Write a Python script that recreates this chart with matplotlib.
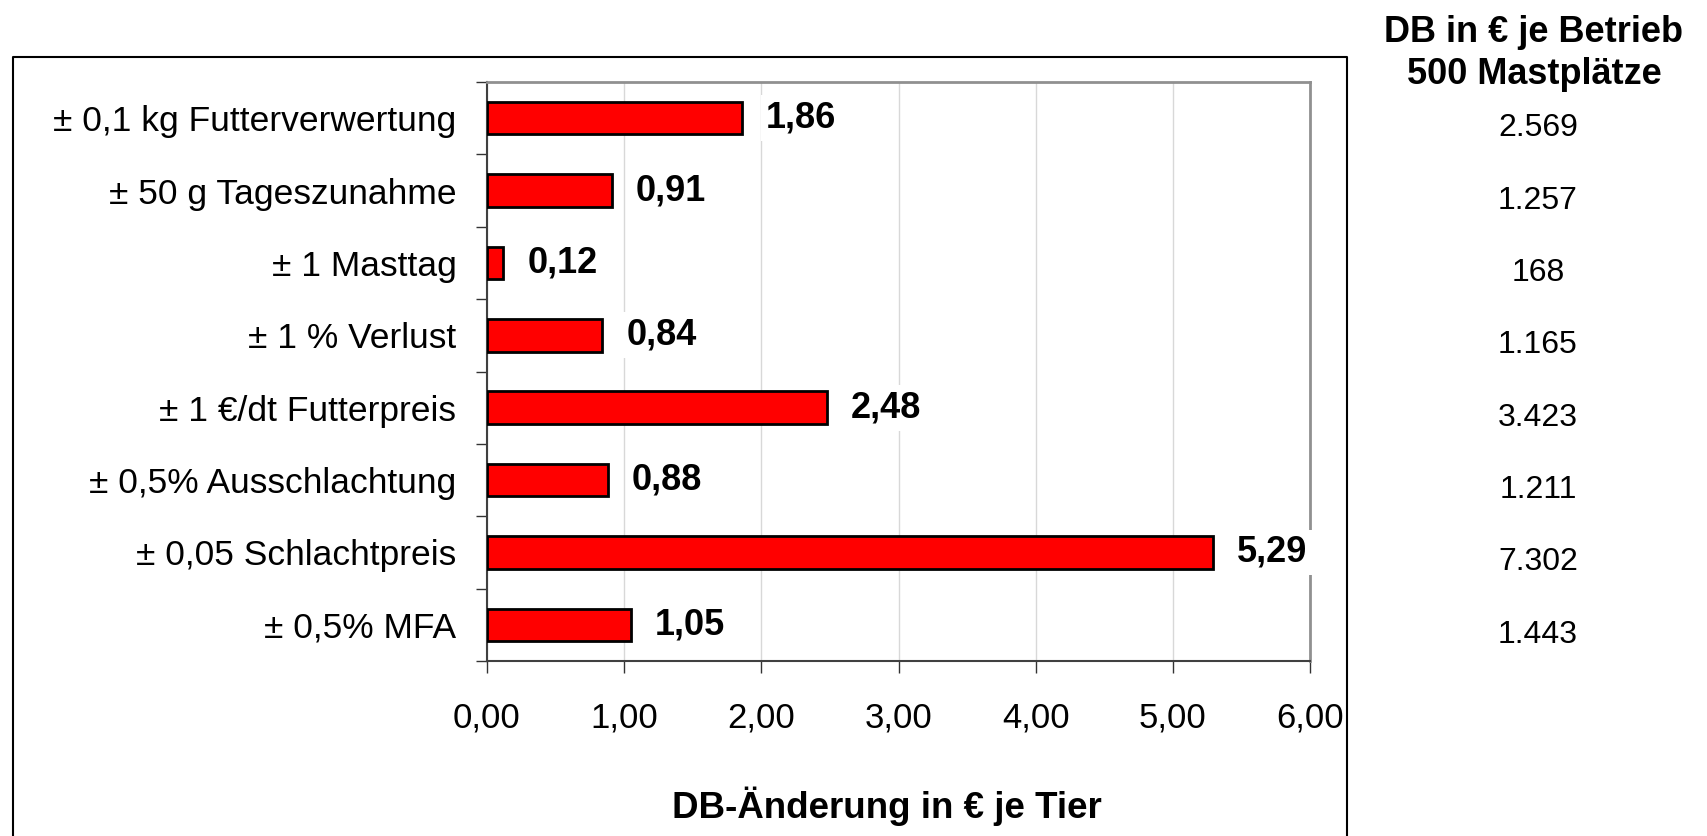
import matplotlib
matplotlib.use("Agg")
import matplotlib.pyplot as plt
import matplotlib.transforms as mtransforms
from matplotlib.lines import Line2D
import numpy as np

categories = ["± 0,1 kg Futterverwertung", "± 50 g Tageszunahme", "± 1 Masttag",
              "± 1 % Verlust", "± 1 €/dt Futterpreis", "± 0,5% Ausschlachtung",
              "± 0,05 Schlachtpreis", "± 0,5% MFA"]
values = [1.86, 0.91, 0.12, 0.84, 2.48, 0.88, 5.29, 1.05]
betrieb = ["2.569", "1.257", "168", "1.165", "3.423", "1.211", "7.302", "1.443"]
xticks = [0, 1, 2, 3, 4, 5, 6]
xticklabels = ["0,00", "1,00", "2,00", "3,00", "4,00", "5,00", "6,00"]
header = ["DB in € je Betrieb", "500 Mastplätze"]
xlabel = "DB-Änderung in € je Tier"

plt.rcParams['font.family'] = ['Liberation Sans', 'DejaVu Sans']

W, H = 1707, 836
fig = plt.figure(figsize=(W / 100, H / 100), dpi=100)
ax = fig.add_axes([487 / W, 1 - 661 / H, (1310 - 487) / W, (661 - 82) / H])

y = np.arange(len(categories))
ax.barh(y, values, height=0.45, color="#FF0000", edgecolor="black", linewidth=2, zorder=3)
ax.set_ylim(len(categories) - 0.5, -0.5)
ax.set_xlim(0, 6)

ax.set_xticks(xticks)
ax.set_xticklabels(xticklabels, fontsize=25)
ax.tick_params(axis="x", direction="out", length=8.5, width=1, pad=21, colors="#333333", labelcolor="black")
ax.set_yticks(y)
ax.set_yticklabels(categories, fontsize=25.5)
ax.tick_params(axis="y", which="major", length=0, pad=22)
ax.set_yticks(np.arange(-0.5, len(categories) + 0.5, 1), minor=True)
ax.tick_params(axis="y", which="minor", direction="out", length=8, width=1, colors="#333333")

ax.grid(axis="x", color="#d8d8d8", linewidth=1, zorder=0)
for s in ["top", "right"]:
    ax.spines[s].set_color("#909090")
    ax.spines[s].set_linewidth(2)
for s in ["left", "bottom"]:
    ax.spines[s].set_color("#404040")
    ax.spines[s].set_linewidth(1.5)

off = mtransforms.offset_copy(ax.transData, fig=fig, x=24, y=0, units="dots")
for yi, v in zip(y, values):
    ax.text(v, yi, f"{v:.2f}".replace(".", ","), transform=off, ha="left", va="center",
            fontsize=26, fontweight="bold", zorder=4,
            bbox=dict(facecolor="white", edgecolor="none", pad=4), clip_on=False)

ax.text(0.486, (661 - 806) / (661 - 82), xlabel, transform=ax.transAxes, ha="center", va="center",
        fontsize=26.5, fontweight="bold")

# right column
blend = mtransforms.blended_transform_factory(fig.transFigure, ax.transData)
blend_off = mtransforms.offset_copy(blend, fig=fig, x=0, y=-10, units="dots")
for yi, t in zip(y, betrieb):
    fig.text(1538 / W, yi, t, transform=blend_off, ha="center", va="center", fontsize=23)
fig.text(1534 / W, 1 - 33 / H, header[0], ha="center", va="center", fontsize=26,
         fontweight="bold")
fig.text(1534 / W, 1 - 75 / H, header[1], ha="center", va="center", fontsize=26,
         fontweight="bold")

# outer chart border
bx0, bx1, by0 = 13 / W, 1347 / W, 1 - 57 / H
fig.add_artist(Line2D([bx0, bx0, bx1, bx1], [-0.01, by0, by0, -0.01], transform=fig.transFigure,
                      color="black", linewidth=1.5))

fig.savefig("out.png", dpi=100)
